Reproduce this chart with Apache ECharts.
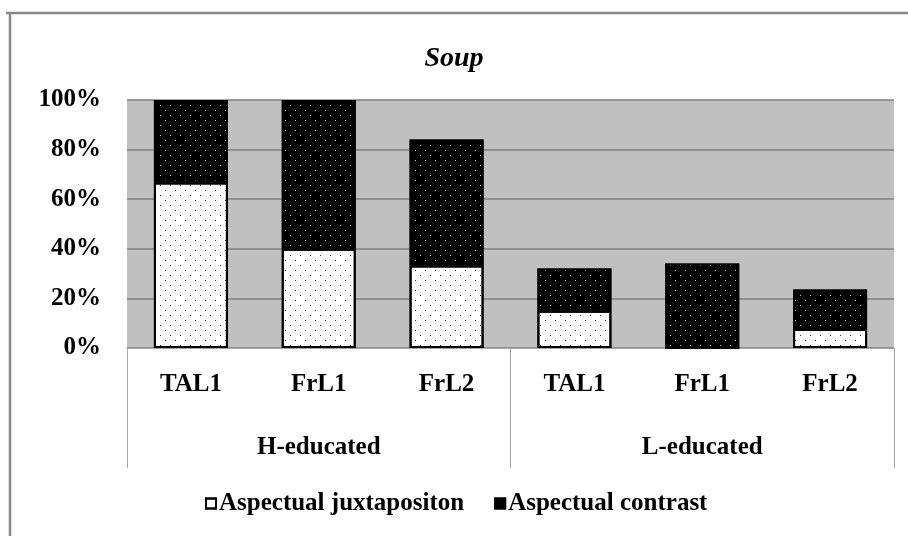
<!DOCTYPE html>
<html>
<head>
<meta charset="utf-8">
<style>
  html, body { margin: 0; padding: 0; background: #fff; }
  #chart { width: 908px; height: 536px; }
</style>
<script src="https://cdn.jsdelivr.net/npm/echarts@6/dist/echarts.min.js"></script>
</head>
<body>
<div id="chart"></div>
<script>
// Share of each response type per speaker group
const categories = ['TAL1', 'FrL1', 'FrL2', 'TAL1', 'FrL1', 'FrL2'];
const groups = ['H-educated', 'L-educated'];
const juxtaposition = [66.7, 40, 33.3, 15, 0, 7.7];
const contrast = [33.3, 60, 50.8, 17.1, 34.1, 15.9];
const yTicks = [0, 20, 40, 60, 80, 100];

const FONT = "'Liberation Serif', 'Times New Roman', serif";

const chart = echarts.init(document.getElementById('chart'), null, { renderer: 'canvas' });

// Dotted fill: dots every 10px, rows every 5px, alternate rows shifted by half
function dots(color) {
  return {
    symbol: 'rect',
    symbolSize: 1,
    color: color,
    dashArrayX: [[1, 9], [0, 5, 1, 4]],
    dashArrayY: [1, 4]
  };
}

chart.setOption({
  animation: false,
  backgroundColor: '#ffffff',
  title: {
    text: 'Soup',
    left: 'center',
    top: 40,
    textStyle: { fontFamily: FONT, fontSize: 28, fontStyle: 'italic', fontWeight: 'bold', color: '#000' }
  },
  legend: {
    left: 200,
    top: 486,
    icon: 'rect',
    itemWidth: 10,
    itemHeight: 10,
    itemGap: 30,
    textStyle: { fontFamily: FONT, fontSize: 25, fontWeight: 'bold', color: '#000', padding: [0, 0, 0, -2] },
    data: ['Aspectual juxtapositon', 'Aspectual contrast']
  },
  grid: {
    left: 127,
    right: 14,
    top: 100,
    bottom: 188,
    show: true,
    backgroundColor: '#c0c0c0',
    borderWidth: 0
  },
  xAxis: [
    {
      type: 'category',
      position: 'bottom',
      data: categories,
      axisLine: { show: true, lineStyle: { color: '#a6a6a6', width: 1 } },
      axisTick: { show: false },
      axisLabel: { margin: 24, fontFamily: FONT, fontSize: 25, fontWeight: 'bold', color: '#000' },
      splitLine: { show: false }
    },
    {
      type: 'category',
      position: 'bottom',
      offset: 0,
      data: groups,
      axisLine: { show: false },
      axisTick: { show: true, length: 120, lineStyle: { color: '#a6a6a6', width: 1 } },
      axisLabel: { margin: 87, fontFamily: FONT, fontSize: 25, fontWeight: 'bold', color: '#000' },
      splitLine: { show: false }
    }
  ],
  yAxis: {
    type: 'value',
    min: yTicks[0],
    max: yTicks[yTicks.length - 1],
    interval: yTicks[1] - yTicks[0],
    axisLine: { show: false },
    axisTick: { show: false },
    axisLabel: { margin: 26, formatter: '{value}%', fontFamily: FONT, fontSize: 25, fontWeight: 'bold', color: '#000' },
    splitLine: { show: true, lineStyle: { color: '#808080', width: 1.5 } }
  },
  series: [
    {
      name: 'Aspectual juxtapositon',
      type: 'bar',
      stack: 'total',
      barWidth: 74,
      data: juxtaposition,
      itemStyle: { color: '#ffffff', borderColor: '#000', borderWidth: 2, decal: dots('#333333') }
    },
    {
      name: 'Aspectual contrast',
      type: 'bar',
      stack: 'total',
      barWidth: 74,
      data: contrast,
      itemStyle: { color: '#000000', borderColor: '#000', borderWidth: 2, decal: dots('#d0d0d0') }
    }
  ],
  graphic: [
    { type: 'line', shape: { x1: 6, y1: 13, x2: 908, y2: 13 }, style: { stroke: '#888', lineWidth: 2.5 } },
    { type: 'line', shape: { x1: 10, y1: 12, x2: 10, y2: 536 }, style: { stroke: '#888', lineWidth: 2.5 } }
  ]
});
</script>
</body>
</html>
